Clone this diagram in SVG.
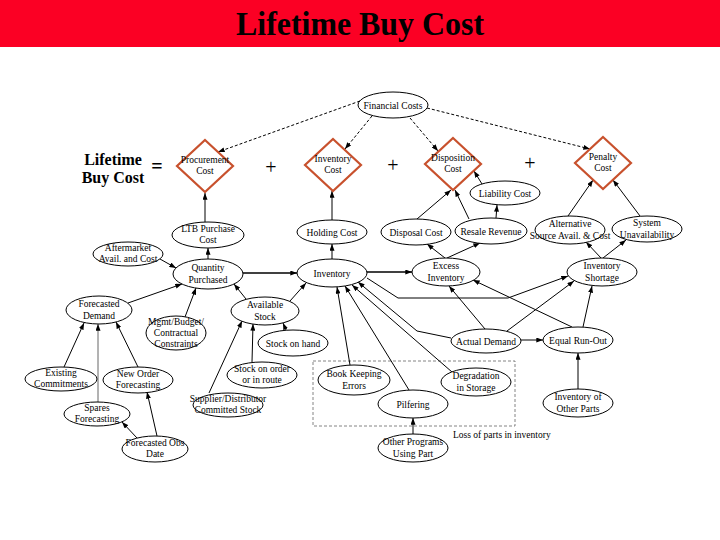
<svg xmlns="http://www.w3.org/2000/svg" width="720" height="540" viewBox="0 0 720 540">
<style>
.n ellipse{fill:#fff;stroke:#000;stroke-width:1}
.d polygon{fill:#fff;stroke:#c8512d;stroke-width:2.2}
text{font-family:"Liberation Serif","Times New Roman",serif;fill:#000}
.n text,.d text{font-size:9.5px;text-anchor:middle}
#edges path{fill:none;stroke:#000;stroke-width:1;marker-end:url(#ah)}
#edges path.dash{stroke-dasharray:3,2}
#edges path.thick{stroke-width:1.5}
#edges path.gray{stroke:#666}
.op{font-size:20px;text-anchor:middle}
</style>
<defs>
<marker id="ah" viewBox="0 0 8 6" refX="8" refY="3" markerWidth="7" markerHeight="5" markerUnits="userSpaceOnUse" orient="auto">
<path d="M0,0 L8,3 L0,6 Z" fill="#000"/>
</marker>
</defs>
<rect x="0" y="0" width="720" height="47" fill="#fb0024"/>
<text x="360" y="35" font-size="33" font-weight="bold" text-anchor="middle" textLength="248" lengthAdjust="spacingAndGlyphs">Lifetime Buy Cost</text>

<text x="113" y="165" font-size="16" font-weight="bold" text-anchor="middle">Lifetime</text>
<text x="113" y="183" font-size="16" font-weight="bold" text-anchor="middle">Buy Cost</text>
<text x="157" y="173" class="op" font-weight="bold">=</text>
<text x="271" y="174" class="op">+</text>
<text x="393" y="172" class="op">+</text>
<text x="530" y="170" class="op">+</text>

<rect x="313" y="361" width="202" height="65" fill="none" stroke="#666" stroke-width="0.8" stroke-dasharray="3,2"/>
<text x="453" y="438" font-size="9.5">Loss of parts in inventory</text>

<g id="edges">
<path class="dash" d="M360,101 L218,152"/>
<path class="dash" d="M372,116 L345,149"/>
<path class="dash" d="M410,118 L438,151"/>
<path class="dash" d="M427,108 L590,149"/>
<path d="M205,222 L205,193"/>
<path d="M208,259 L208,248"/>
<path d="M160,259 L176,268"/>
<path class="thick" d="M243,273 L297,273"/>
<path d="M128,303 L182,284"/>
<path d="M185,317 L196,288"/>
<path d="M246,299 L234,284"/>
<path d="M290,301 L306,283"/>
<path d="M286,330 L283,323"/>
<path d="M252,362 L253,324"/>
<path d="M209,393 L242,321"/>
<path d="M64,367 L84,323"/>
<path class="gray" d="M98,402 L98,324"/>
<path d="M138,367 L116,322"/>
<path d="M157,436 L147,392"/>
<path d="M137,438 L122,422"/>
<path d="M332,259 L332,244"/>
<path d="M332,220 L332,191"/>
<path class="thick" d="M367,272 L412,272"/>
<path d="M445,258 L427,244"/>
<path d="M447,258 L480,243"/>
<path d="M417,219 L451,190"/>
<path d="M469,219 L455,190"/>
<path d="M482,184 L474,171"/>
<path d="M496,218 L497,205"/>
<path d="M568,216 L593,180"/>
<path d="M640,216 L613,180"/>
<path d="M601,258 L586,242"/>
<path d="M603,258 L626,240"/>
<path d="M367,278 L398,298 L508,298 L568,276"/>
<path d="M451,338 L417,331 L358,282"/>
<path d="M485,329 L449,286"/>
<path d="M572,327 L473,280"/>
<path d="M507,331 L574,281"/>
<path d="M583,327 L592,286"/>
<path d="M521,340 L543,340"/>
<path d="M578,389 L578,353"/>
<path d="M350,365 L337,287"/>
<path d="M409,390 L345,286"/>
<path d="M452,372 L352,285"/>
<path d="M413,434 L413,418"/>
</g>

<g id="proc" class="d"><polygon points="205,140 233,166 205,192 177,166"/><text x="205" y="163">Procurement</text><text x="205" y="174">Cost</text></g>
<g id="invc" class="d"><polygon points="333,139 361,165 333,191 305,165"/><text x="333" y="162">Inventory</text><text x="333" y="173">Cost</text></g>
<g id="dispc" class="d"><polygon points="453,138 481,164 453,190 425,164"/><text x="453" y="161">Disposition</text><text x="453" y="172">Cost</text></g>
<g id="pen" class="d"><polygon points="603,137 631,163 603,189 575,163"/><text x="603" y="160">Penalty</text><text x="603" y="171">Cost</text></g>

<g id="fin" class="n"><ellipse cx="393" cy="105" rx="35" ry="13"/><text x="393" y="108.5">Financial Costs</text></g>
<g id="ltb" class="n"><ellipse cx="208" cy="235" rx="36" ry="13"/><text x="208" y="232">LTB Purchase</text><text x="208" y="243">Cost</text></g>
<g id="after" class="n"><ellipse cx="128" cy="254" rx="35" ry="12"/><text x="128" y="251">Aftermarket</text><text x="128" y="262">Avail. and Cost</text></g>
<g id="qp" class="n"><ellipse cx="208" cy="274" rx="35" ry="15"/><text x="208" y="271">Quantity</text><text x="208" y="283">Purchased</text></g>
<g id="fd" class="n"><ellipse cx="99" cy="310" rx="33" ry="14"/><text x="99" y="307">Forecasted</text><text x="99" y="319">Demand</text></g>
<g id="as" class="n"><ellipse cx="265" cy="311" rx="34" ry="14"/><text x="265" y="308">Available</text><text x="265" y="320">Stock</text></g>
<g id="mgmt" class="n"><ellipse cx="176" cy="333" rx="30" ry="17"/><text x="176" y="325">Mgmt/Budget/</text><text x="176" y="336">Contractual</text><text x="176" y="347">Constraints</text></g>
<g id="exist" class="n"><ellipse cx="61" cy="379" rx="36" ry="12"/><text x="61" y="376">Existing</text><text x="61" y="387">Commitments</text></g>
<g id="nof" class="n"><ellipse cx="138" cy="380" rx="35" ry="13"/><text x="138" y="377">New Order</text><text x="138" y="388">Forecasting</text></g>
<g id="spares" class="n"><ellipse cx="97" cy="414" rx="33" ry="12"/><text x="97" y="411">Spares</text><text x="97" y="422">Forecasting</text></g>
<g id="fod" class="n"><ellipse cx="155" cy="449" rx="33" ry="13"/><text x="155" y="446">Forecasted Obs</text><text x="155" y="457">Date</text></g>
<g id="soh" class="n"><ellipse cx="293" cy="343" rx="35" ry="13"/><text x="293" y="346.5">Stock on hand</text></g>
<g id="soo" class="n"><ellipse cx="262" cy="375" rx="35" ry="13"/><text x="262" y="372">Stock on order</text><text x="262" y="383">or in route</text></g>
<g id="sup" class="n"><ellipse cx="228" cy="405" rx="35" ry="12"/><text x="228" y="402">Supplier/Distributor</text><text x="228" y="413">Committed Stock</text></g>
<g id="inv" class="n"><ellipse cx="332" cy="273" rx="35" ry="14"/><text x="332" y="276.5">Inventory</text></g>
<g id="hold" class="n"><ellipse cx="332" cy="232" rx="35" ry="12"/><text x="332" y="235.5">Holding Cost</text></g>
<g id="disp" class="n"><ellipse cx="416" cy="232" rx="35" ry="13"/><text x="416" y="235.5">Disposal Cost</text></g>
<g id="resale" class="n"><ellipse cx="491" cy="231" rx="36" ry="13"/><text x="491" y="234.5">Resale Revenue</text></g>
<g id="liab" class="n"><ellipse cx="505" cy="193" rx="35" ry="12"/><text x="505" y="196.5">Liability Cost</text></g>
<g id="excess" class="n"><ellipse cx="446" cy="272" rx="34" ry="14"/><text x="446" y="269">Excess</text><text x="446" y="281">Inventory</text></g>
<g id="alt" class="n"><ellipse cx="570" cy="230" rx="35" ry="14"/><text x="570" y="227">Alternative</text><text x="570" y="239">Source Avail. &amp; Cost</text></g>
<g id="sys" class="n"><ellipse cx="647" cy="229" rx="35" ry="13"/><text x="647" y="226">System</text><text x="647" y="238">Unavailability</text></g>
<g id="short" class="n"><ellipse cx="602" cy="272" rx="35" ry="14"/><text x="602" y="269">Inventory</text><text x="602" y="281">Shortage</text></g>
<g id="actual" class="n"><ellipse cx="486" cy="341" rx="35" ry="12"/><text x="486" y="344.5">Actual Demand</text></g>
<g id="ero" class="n"><ellipse cx="578" cy="340" rx="35" ry="13"/><text x="578" y="343.5">Equal Run-Out</text></g>
<g id="iop" class="n"><ellipse cx="578" cy="403" rx="35" ry="14"/><text x="578" y="400">Inventory of</text><text x="578" y="412">Other Parts</text></g>
<g id="bke" class="n"><ellipse cx="354" cy="380" rx="36" ry="15"/><text x="354" y="377">Book Keeping</text><text x="354" y="389">Errors</text></g>
<g id="pilf" class="n"><ellipse cx="413" cy="404" rx="35" ry="14"/><text x="413" y="407.5">Pilfering</text></g>
<g id="degr" class="n"><ellipse cx="476" cy="382" rx="35" ry="14"/><text x="476" y="379">Degradation</text><text x="476" y="391">in Storage</text></g>
<g id="other" class="n"><ellipse cx="413" cy="448" rx="35" ry="14"/><text x="413" y="445">Other Programs</text><text x="413" y="457">Using Part</text></g>
</svg>
